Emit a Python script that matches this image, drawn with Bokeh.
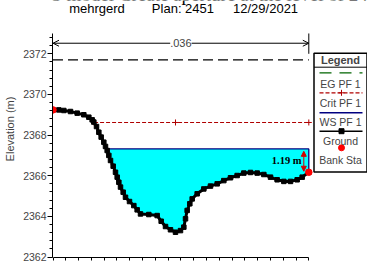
import numpy as np
from bokeh.plotting import figure
from bokeh.models import (Range1d, SingleIntervalTicker, FixedTicker, Label, Arrow, OpenHead,
                          NormalHead)
from bokeh.embed import file_html
from bokeh.resources import INLINE

# ---------------- data ----------------
ground_station = [0.0, 2.28, 4.23, 6.84, 9.45, 12.05, 14.01, 15.31, 15.96, 17.01, 17.92, 18.83,
                  19.87, 20.52, 21.18, 21.83, 22.48, 23.52, 24.43, 25.09, 25.74, 26.39, 27.43,
                  28.34, 29.91, 31.60, 32.90, 34.21, 37.46, 40.72, 42.29, 43.98, 45.93, 47.89,
                  49.84, 51.15, 51.80, 52.45, 53.49, 54.41, 56.36, 58.96, 61.57, 64.18, 66.78,
                  69.39, 71.99, 74.60, 77.21, 79.82, 82.42, 85.03, 87.63, 90.24, 92.85, 95.45,
                  97.41, 100.0]
ground_elev = [2369.24, 2369.24, 2369.21, 2369.16, 2369.08, 2369.00, 2368.88, 2368.75, 2368.64,
               2368.42, 2368.14, 2367.90, 2367.65, 2367.44, 2367.24, 2367.00, 2366.75, 2366.47,
               2366.17, 2365.93, 2365.68, 2365.44, 2365.19, 2364.94, 2364.73, 2364.53, 2364.32,
               2364.12, 2364.09, 2364.04, 2363.76, 2363.50, 2363.34, 2363.22, 2363.30, 2363.47,
               2363.88, 2364.29, 2364.62, 2364.86, 2365.11, 2365.35, 2365.49, 2365.60, 2365.76,
               2365.90, 2366.01, 2366.13, 2366.16, 2366.13, 2366.06, 2365.93, 2365.80, 2365.72,
               2365.72, 2365.80, 2365.93, 2366.17]
eg_elev = 2371.70
crit_elev = 2368.62
ws_elev = 2367.32
n_value_label = ".036"
n_bracket_station = [0.0, 100.0]
n_bracket_elev = 2372.52
depth_label = "1.19 m"
depth_station = 98.05
caption_text = "HEC-RAS model Create aperture at the level of 24"
subtitle_parts = ["mehrgerd", "Plan: 2451", "12/29/2021"]
subtitle_station = [17.2, 50.8, 83.1]
legend_title = "Legend"
legend_labels = ["EG PF 1", "Crit PF 1", "WS PF 1", "Ground", "Bank Sta"]
y_label = "Elevation (m)"
y_axis_bounds = (2362, 2373)
x_axis_bounds = (0, 100)
x_tick_step = 5

# ---------------- layout (canvas pixel positions) ----------------
W, H = 367, 262
BL, BB = 52, 5
PX0, PX100 = 52.5, 308.3      # canvas x of station 0 and 100
PY2372, PY2362 = 53.3, 256.5  # canvas y of elevations 2372 and 2362
KX = (PX100 - PX0) / 100.0
KY = (PY2362 - PY2372) / 10.0

x_start = (BL - PX0) / KX
x_end = (W - PX0) / KX
y_end = 2372 + PY2372 / KY
y_start = 2362 - ((H - BB) - PY2362) / KY


def LX(px):
    return (px - PX0) / KX


def LY(py):
    return 2372 - (py - PY2372) / KY


FONT = "Liberation Sans"

p = figure(width=W, height=H, output_backend="svg", toolbar_location=None,
           x_range=Range1d(x_start, x_end), y_range=Range1d(y_start, y_end),
           min_border_left=BL, min_border_right=0, min_border_top=0, min_border_bottom=BB)
p.outline_line_color = None
p.xgrid.visible = False
p.ygrid.visible = False
p.background_fill_color = "white"
p.border_fill_color = "white"

# axes
p.yaxis.ticker = SingleIntervalTicker(interval=2, num_minor_ticks=5)
p.yaxis.bounds = y_axis_bounds
p.yaxis.axis_label = y_label
p.yaxis.axis_label_text_font = FONT
p.yaxis.axis_label_text_font_style = "normal"
p.yaxis.axis_label_text_font_size = "11px"
p.yaxis.axis_label_standoff = 4
p.yaxis.major_label_text_font = FONT
p.yaxis.major_label_text_font_size = "10.5px"
p.yaxis.major_label_standoff = 1
p.yaxis.major_tick_out = 5
p.yaxis.major_tick_in = 0
p.yaxis.minor_tick_out = 3
p.yaxis.minor_tick_in = 0
p.yaxis.axis_line_color = "black"

p.xaxis.ticker = FixedTicker(ticks=[], minor_ticks=list(np.arange(x_axis_bounds[0],
                                                                   x_axis_bounds[1] + 1,
                                                                   x_tick_step)))
p.xaxis.bounds = x_axis_bounds
p.xaxis.major_label_standoff = 0
p.xaxis.major_tick_out = 3
p.xaxis.major_tick_in = 0
p.xaxis.minor_tick_out = 3
p.xaxis.minor_tick_in = 0

gs = np.array(ground_station)
ge = np.array(ground_elev)

# water area
i = int(np.where(ge < ws_elev)[0][0])
x_ws = float(np.interp(ws_elev, [ge[i], ge[i - 1]], [gs[i], gs[i - 1]]))
wx = np.concatenate([[x_ws], gs[i:]])
wy = np.concatenate([[ws_elev], ge[i:]])
p.varea(x=wx, y1=wy, y2=ws_elev, fill_color="#00FFFF")
p.line([x_ws, gs[-1], gs[-1]], [ws_elev, ws_elev, ge[-1]], line_color="#000080", line_width=1.3)

# EG
p.line([gs[0], gs[-1]], [eg_elev, eg_elev], line_color="black", line_width=1.2, line_dash="10 5")

# Crit
j = int(np.where(ge < crit_elev)[0][0])
x_cr = float(np.interp(crit_elev, [ge[j], ge[j - 1]], [gs[j], gs[j - 1]]))
p.line([x_cr, gs[-1]], [crit_elev, crit_elev], line_color="#B00000", line_width=1.2, line_dash="4 2")
p.scatter([x_cr, gs[int(np.argmin(ge))], gs[-1]], [crit_elev] * 3, marker="cross", size=6,
          line_color="#B00000", line_width=1)

# Ground
p.line(gs, ge, line_color="black", line_width=3)
p.scatter(gs, ge, marker="square", size=4.5, fill_color="black", line_color="black")

# Bank stations
p.scatter([gs[0], gs[-1]], [ge[0], ge[-1]], marker="circle", size=6.5, fill_color="#FF0000",
          line_color="#FF0000")

# n-value bracket
p.add_layout(Arrow(start=OpenHead(size=6, line_width=1), end=OpenHead(size=6, line_width=1),
                   x_start=n_bracket_station[0], y_start=n_bracket_elev,
                   x_end=n_bracket_station[1], y_end=n_bracket_elev, line_width=1))
p.segment(x0=[n_bracket_station[1]], y0=[y_axis_bounds[1] - 1.0], x1=[n_bracket_station[1]],
          y1=[y_axis_bounds[1]], line_color="black", line_width=1)
p.add_layout(Label(x=sum(n_bracket_station) / 2, y=n_bracket_elev, text=n_value_label,
                   text_align="center", text_baseline="middle", text_font=FONT,
                   text_font_size="11px", background_fill_color="white"))

# depth annotation
p.add_layout(Arrow(start=NormalHead(size=5, fill_color="#D00000", line_color="#D00000"),
                   end=NormalHead(size=5, fill_color="#D00000", line_color="#D00000"),
                   x_start=depth_station, y_start=ws_elev - 0.12,
                   x_end=depth_station, y_end=ge[-1] + 0.05,
                   line_color="#D00000", line_width=1))
p.add_layout(Label(x=depth_station - 0.9, y=(ws_elev + ge[-1]) / 2, text=depth_label,
                   text_align="right", text_baseline="middle", text_font="Liberation Serif",
                   text_font_style="bold", text_font_size="10.5px", text_color="black"))

# cut-off caption at the very top and the subtitle
p.add_layout(Label(x=LX(-20), y=LY(-6), text=caption_text, text_align="left",
                   text_baseline="middle", text_font="Liberation Serif",
                   text_font_size="19px", text_color="black"))
for s, t in zip(subtitle_station, subtitle_parts):
    p.add_layout(Label(x=s, y=LY(7.5), text=t, text_align="center", text_baseline="middle",
                       text_font=FONT, text_font_size="13px", text_color="black"))

# legend box
p.quad(left=[LX(313.5)], right=[LX(366.5)], top=[LY(52.7)], bottom=[LY(171.5)],
       fill_color="white", line_color="black", line_width=1.5)
p.segment(x0=[LX(313.5)], y0=[LY(66.7)], x1=[LX(366.5)], y1=[LY(66.7)], line_color="black",
          line_width=1)
p.add_layout(Label(x=LX(340), y=LY(59.5), text=legend_title, text_align="center",
                   text_baseline="middle", text_font=FONT, text_font_style="bold",
                   text_font_size="11px"))
sample_y = [72.3, 92.3, 112.3, 130.7, 147.3]
text_y = [83.3, 102.3, 121.3, 140.8, 159.3]
for lab, ty in zip(legend_labels, text_y):
    p.add_layout(Label(x=LX(340), y=LY(ty), text=lab, text_align="center", text_baseline="middle",
                       text_font=FONT, text_font_size="10.5px"))
lx0, lx1 = LX(319), LX(362)
p.line([lx0, lx1], [LY(sample_y[0])] * 2, line_color="#006400", line_width=1.2, line_dash="12 8")
p.line([lx0, lx1], [LY(sample_y[1])] * 2, line_color="#B00000", line_width=1.2, line_dash="4 2")
p.scatter([LX(341)], [LY(sample_y[1])], marker="cross", size=6, line_color="#B00000")
p.line([lx0, lx1], [LY(sample_y[2])] * 2, line_color="#000080", line_width=1.5)
p.line([lx0, lx1], [LY(sample_y[3])] * 2, line_color="black", line_width=1.5)
p.scatter([LX(341)], [LY(sample_y[3])], marker="square", size=5, fill_color="black",
          line_color="black")
p.scatter([LX(341)], [LY(sample_y[4])], marker="circle", size=6, fill_color="#FF0000",
          line_color="#FF0000")

open("out.html", "w").write(file_html(p, INLINE))
